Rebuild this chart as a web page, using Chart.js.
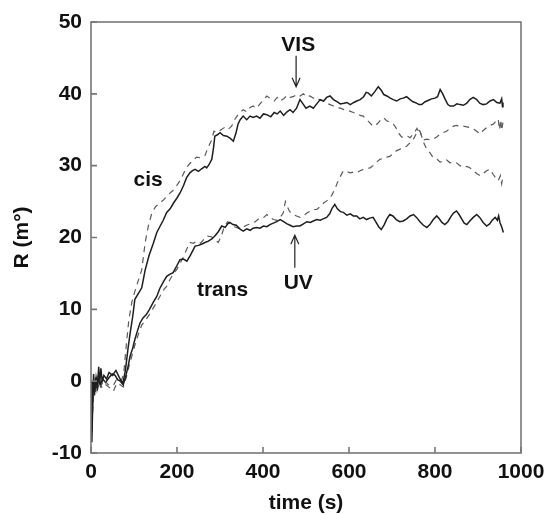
<!DOCTYPE html>
<html>
<head>
<meta charset="utf-8">
<script src="https://cdn.jsdelivr.net/npm/chart.js@4"></script>
<style>
  html, body { margin: 0; padding: 0; background: #fff; }
  #wrap { width: 548px; height: 514px; }
</style>
</head>
<body>
<div id="wrap"><canvas id="chart"></canvas></div>
<script>
// cis, solid line
var cisSolidT = [0, 2, 4, 6, 9, 12, 15, 18, 20, 23, 26, 30, 36, 42, 50, 58, 66, 74, 80, 86, 91, 97, 102, 110, 118, 126, 135, 145, 153, 160, 168, 176, 184, 192, 200, 207, 215, 222, 230, 236, 242, 250, 258, 265, 269, 275, 281, 285, 288, 294, 300, 308, 316, 324, 331, 337, 342, 347, 354, 362, 370, 377, 385, 393, 401, 409, 418, 426, 433, 440, 448, 456, 463, 470, 478, 486, 493, 500, 509, 517, 525, 533, 541, 548, 556, 564, 572, 580, 588, 595, 603, 611, 618, 626, 634, 640, 645, 652, 660, 668, 675, 681, 688, 696, 703, 711, 719, 726, 734, 742, 749, 757, 763, 769, 777, 785, 792, 800, 806, 812, 818, 824, 830, 835, 843, 851, 858, 866, 874, 881, 889, 897, 904, 912, 920, 928, 936, 944, 951, 955, 957, 958];
var cisSolidR = [0, -7, -2, 1, -1.5, 0.5, -0.5, 2, -0.5, 1.8, 0, 0.8, 0.3, 1.2, 0.8, 1.5, 0.5, -0.3, 1.5, 4.5, 6.7, 9, 11.4, 12.2, 13, 15.5, 17.5, 19.2, 20.7, 21.5, 22.4, 23.5, 24, 24.8, 25.5, 26.2, 27.2, 28.3, 29, 29.3, 29.5, 29.2, 29.6, 29.9, 29.7, 30.2, 30.9, 32.5, 34.1, 34.3, 34.6, 34.2, 34.1, 33.8, 33.4, 34.5, 35.8, 36.4, 36.9, 36.4, 36.9, 36.7, 36.9, 36.6, 37.2, 37.1, 36.8, 37.4, 37.2, 37.6, 37.0, 37.5, 37.8, 37.4, 38.0, 39.2, 38.6, 38.0, 38.3, 38.0, 38.6, 39.2, 39.0, 39.5, 39.7, 39.2, 38.9, 38.6, 38.7, 38.8, 38.5, 38.8, 39.0, 39.2, 39.6, 40.2, 40.1, 39.7, 40.3, 41.0, 40.5, 39.9, 39.7, 39.4, 39.2, 39.0, 39.3, 39.4, 39.6, 39.2, 38.9, 38.7, 38.5, 38.5, 38.9, 39.1, 39.3, 39.4, 39.6, 40.6, 40.0, 39.2, 38.5, 38.3, 38.3, 38.6, 38.5, 38.4, 38.7, 39.2, 39.5, 39.2, 38.7, 38.5, 38.6, 39.0, 39.2, 38.8, 38.7, 39.3, 38.2, 38.8];

// cis, dashed line
var cisDashT = [0, 3, 6, 10, 15, 22, 30, 40, 52, 60, 70, 76, 82, 88, 95, 102, 110, 118, 126, 133, 141, 150, 160, 170, 180, 190, 199, 208, 216, 223, 230, 238, 246, 254, 265, 272, 280, 286, 292, 300, 310, 318, 327, 335, 343, 354, 362, 370, 377, 385, 393, 401, 409, 418, 426, 433, 440, 448, 456, 463, 470, 478, 486, 494, 501, 509, 517, 525, 533, 540, 548, 556, 564, 571, 580, 588, 595, 602, 610, 618, 626, 633, 641, 648, 654, 660, 667, 674, 680, 687, 695, 703, 710, 716, 722, 730, 736, 742, 748, 754, 758, 762, 765, 770, 775, 781, 788, 796, 805, 812, 819, 827, 835, 843, 850, 858, 866, 874, 881, 889, 897, 905, 912, 920, 928, 935, 941, 947, 952, 955, 958];
var cisDashR = [-1, -4, 0, -1, 0.5, -0.8, 0.2, -0.5, -0.6, 0.3, 0, 1, 5, 8.5, 11, 12.5, 14, 15.5, 19.3, 21.5, 23.3, 24.3, 24.8, 25.3, 26, 26.5, 27.2, 28, 29, 29.8, 30.3, 30.8, 31.2, 31.1, 31.4, 32.5, 33.5, 34.8, 34.6, 34.9, 35.3, 35.0, 35.5, 36.5, 37.2, 37.8, 37.5, 38.1, 38.3, 38.0, 38.6, 39.2, 39.7, 39.3, 39.0, 39.5, 39.0, 39.3, 39.8, 39.5, 39.6, 39.9, 39.7, 40.0, 39.6, 39.7, 39.4, 39.5, 39.1, 39.0, 38.7, 38.5, 38.3, 38.1, 38.0, 37.8, 37.7, 37.6, 37.4, 37.3, 37.0, 36.9, 36.4, 36.0, 35.6, 35.5, 35.9, 36.4, 36.7, 36.3, 36.0, 35.8, 35.2, 34.5, 34.0, 33.9, 34.1, 33.9, 34.3, 34.8, 35.2, 34.6, 34.8, 33.9, 33.0, 32.3, 31.8, 31.1, 30.9, 30.5, 30.6, 30.8, 30.4, 30.5, 30.4, 30.0, 29.8, 29.9, 29.7, 29.3, 28.9, 28.6, 28.9, 29.3, 29.5, 28.8, 28.3, 27.9, 28.6, 27.5, 28.5];

// trans, solid line
var transSolidT = [0, 2, 4, 6, 8, 11, 14, 18, 22, 27, 34, 42, 50, 56, 62, 68, 75, 80, 86, 91, 97, 102, 108, 114, 121, 129, 136, 145, 153, 160, 168, 176, 184, 191, 199, 207, 215, 223, 231, 237, 242, 250, 258, 265, 273, 281, 288, 296, 304, 312, 318, 323, 330, 338, 346, 354, 362, 370, 377, 385, 393, 401, 409, 416, 424, 432, 440, 448, 456, 463, 470, 478, 486, 494, 502, 510, 517, 525, 533, 540, 548, 555, 561, 567, 573, 580, 587, 595, 603, 610, 618, 625, 633, 641, 648, 656, 662, 669, 675, 682, 688, 695, 702, 710, 718, 726, 734, 742, 750, 757, 765, 773, 781, 788, 796, 804, 810, 816, 823, 830, 837, 843, 850, 856, 862, 868, 874, 881, 889, 897, 904, 912, 920, 927, 933, 940, 945, 948, 951, 955, 959];
var transSolidR = [0, -8.5, -3, -0.5, -2, 0.5, -1, 0.5, -0.5, 0.3, -0.2, 0.5, 1.0, 0.8, 0.2, 0, -0.5, 0.5, 2, 3.5, 4.6, 5.8, 7, 8.1, 8.8, 9.3, 10, 11, 11.8, 12.9, 13.8, 14.6, 14.9, 15.1, 16.0, 16.9, 17.0, 16.7, 17.5, 18.2, 18.8, 18.9, 19.1, 19.3, 19.5, 19.8, 20.2, 20.8, 21.6, 21.4, 21.9, 22.1, 21.8, 21.7, 21.2, 20.9, 21.2, 21.0, 21.3, 21.4, 21.3, 21.6, 21.5, 21.8, 22.0, 22.2, 22.5, 22.2, 21.9, 21.7, 21.5, 21.6, 21.6, 21.9, 22.2, 22.1, 22.3, 22.5, 22.4, 22.6, 22.8, 23.3, 24.1, 24.6, 24.0, 23.6, 23.5, 23.1, 23.3, 23.0, 23.0, 22.6, 22.8, 22.5, 22.7, 22.8, 22.2, 21.5, 21.1, 21.8, 22.6, 23.2, 23.0, 22.5, 22.2, 22.3, 22.6, 23.0, 23.2, 22.8, 22.2, 21.7, 21.4, 21.8, 22.5, 23.0, 22.6, 22.1, 21.8, 22.2, 22.9, 23.4, 23.7, 23.2, 22.6, 22.0, 21.8, 22.3, 22.8, 23.2, 22.8, 22.1, 21.6, 21.9, 22.4, 22.8, 22.4, 23.0, 22.1, 21.5, 20.7];

// trans, dashed line
var transDashT = [0, 3, 6, 10, 14, 20, 26, 35, 45, 52, 60, 68, 75, 82, 88, 95, 102, 110, 118, 127, 136, 145, 153, 162, 170, 176, 184, 192, 200, 208, 215, 222, 230, 238, 246, 255, 263, 271, 280, 288, 296, 303, 310, 318, 326, 334, 342, 350, 358, 366, 374, 382, 390, 400, 409, 416, 424, 432, 440, 447, 452, 456, 462, 470, 478, 486, 494, 502, 510, 518, 525, 533, 541, 548, 555, 560, 567, 572, 578, 587, 595, 603, 610, 618, 626, 634, 641, 649, 656, 664, 672, 680, 688, 695, 703, 711, 719, 726, 734, 742, 750, 756, 761, 765, 770, 775, 781, 788, 796, 804, 812, 819, 827, 835, 843, 850, 858, 866, 874, 881, 889, 897, 905, 912, 920, 928, 936, 942, 947, 950, 953, 955, 958];
var transDashR = [-1, -5, -1.5, 0, -1.5, 0, -1, -0.5, -1, -1.4, -0.3, -0.5, -0.8, 0.5, 2, 3.5, 5, 6.5, 7.8, 8.5, 9.3, 10.2, 11, 12, 12.8, 13.2, 14.2, 15, 15.6, 16.5, 17.3, 18.3, 19.3, 19.2, 19.5, 19.2, 19.8, 20.2, 20.1, 19.7, 19.3, 20.2, 21.5, 22.2, 21.8, 21.5, 21.3, 21.2, 21.6, 21.8, 22.0, 22.2, 22.6, 22.7, 23.2, 22.8, 22.5, 22.4, 22.8, 23.4, 25.0, 24.4, 23.6, 23.2, 23.0, 22.8, 23.0, 23.4, 23.7, 23.9, 23.9, 24.3, 24.8, 25.1, 25.4, 25.9, 26.7, 27.5, 28.3, 29.3, 29.2, 29.0, 29.1, 29.0, 29.3, 29.5, 29.6, 29.7, 30.0, 30.5, 30.9, 31.0, 31.2, 31.3, 31.7, 32.1, 32.3, 32.5, 32.7, 33.2, 33.7, 34.4, 35.0, 34.8, 34.0, 33.6, 33.7, 33.6, 33.7, 34.0, 34.4, 34.6, 34.8, 35.2, 35.5, 35.6, 35.5, 35.5, 35.4, 35.3, 35.1, 34.8, 34.4, 34.9, 35.3, 35.6, 35.8, 36.2, 36.5, 35.0, 36.4, 34.9, 36.0];

// axis ticks
var xTicks = [0, 200, 400, 600, 800, 1000];
var yTicks = [-10, 0, 10, 20, 30, 40, 50];

// labels written in the plot (time, R)
var noteText = ['VIS', 'cis', 'trans', 'UV'];
var noteT = [482, 133, 306, 482];
var noteR = [45.9, 27.2, 11.8, 12.8];

// arrows: from (t, r0) to the tip (t, r1)
var arrowT = [477, 474];
var arrowFrom = [45.3, 15.8];
var arrowTo = [41.0, 20.3];

function pts(t, r) {
  return t.map(function(v, i) { return { x: v, y: r[i] }; });
}

const FONT = '"Liberation Sans", Arial, Helvetica, sans-serif';

// frame round the plot + ticks pointing inward
var framePlugin = {
  id: 'frame',
  afterDraw: function(chart) {
    var ctx = chart.ctx;
    var a = chart.chartArea;
    var xs = chart.scales.x, ys = chart.scales.y;
    ctx.save();
    ctx.strokeStyle = '#777';
    ctx.lineWidth = 1.6;
    ctx.strokeRect(a.left, a.top, a.right - a.left, a.bottom - a.top);
    ctx.beginPath();
    xTicks.forEach(function(v) {
      var x = xs.getPixelForValue(v);
      ctx.moveTo(x, a.bottom);
      ctx.lineTo(x, a.bottom - 6);
    });
    yTicks.forEach(function(v) {
      var y = ys.getPixelForValue(v);
      ctx.moveTo(a.left, y);
      ctx.lineTo(a.left + 6, y);
    });
    ctx.stroke();
    ctx.restore();
  }
};

// text notes and arrows
var notePlugin = {
  id: 'notes',
  afterDatasetsDraw: function(chart) {
    var ctx = chart.ctx;
    var xs = chart.scales.x, ys = chart.scales.y;
    ctx.save();
    ctx.fillStyle = '#111';
    ctx.font = 'bold 21px ' + FONT;
    ctx.textAlign = 'center';
    ctx.textBaseline = 'alphabetic';
    noteText.forEach(function(s, i) {
      ctx.fillText(s, xs.getPixelForValue(noteT[i]), ys.getPixelForValue(noteR[i]));
    });
    ctx.strokeStyle = '#222';
    ctx.lineWidth = 1.2;
    arrowT.forEach(function(t, i) {
      var x = xs.getPixelForValue(t);
      var y0 = ys.getPixelForValue(arrowFrom[i]);
      var y1 = ys.getPixelForValue(arrowTo[i]);
      var d = y1 > y0 ? -1 : 1;
      ctx.beginPath();
      ctx.moveTo(x, y0);
      ctx.lineTo(x, y1);
      ctx.moveTo(x - 4, y1 + d * 9);
      ctx.lineTo(x, y1);
      ctx.lineTo(x + 4, y1 + d * 9);
      ctx.stroke();
    });
    ctx.restore();
  }
};

var solid = { borderColor: '#1e1e1e', borderWidth: 1.5, pointRadius: 0, fill: false, tension: 0 };
var dashed = { borderColor: '#5a5a5a', borderWidth: 1.2, borderDash: [6, 5], pointRadius: 0, fill: false, tension: 0 };

function plain(v) { return String(v); }

var ctx = document.getElementById('chart').getContext('2d');
var chart = new Chart(ctx, {
  type: 'line',
  data: {
    datasets: [
      Object.assign({ label: 'cis', data: pts(cisSolidT, cisSolidR) }, solid),
      Object.assign({ label: 'cis dashed', data: pts(cisDashT, cisDashR) }, dashed),
      Object.assign({ label: 'trans', data: pts(transSolidT, transSolidR) }, solid),
      Object.assign({ label: 'trans dashed', data: pts(transDashT, transDashR) }, dashed)
    ]
  },
  options: {
    responsive: true,
    maintainAspectRatio: false,
    animation: false,
    layout: { padding: { left: 0, right: 27, top: 22, bottom: 0 } },
    plugins: { legend: { display: false }, tooltip: { enabled: false } },
    scales: {
      x: {
        type: 'linear',
        min: 0,
        max: 1000,
        afterBuildTicks: function(s) { s.ticks = xTicks.map(function(v) { return { value: v }; }); },
        afterFit: function(s) { s.height = 61; s.paddingLeft = 0; s.paddingRight = 0; },
        grid: { display: false, drawTicks: false },
        border: { display: false },
        ticks: { color: '#111', padding: 7, maxRotation: 0, callback: plain, font: { family: FONT, size: 21, weight: 'bold' } },
        title: { display: true, text: 'time (s)', color: '#111', padding: 0, font: { family: FONT, size: 21, weight: 'bold', lineHeight: 1 } }
      },
      y: {
        min: -10,
        max: 50,
        afterBuildTicks: function(s) { s.ticks = yTicks.map(function(v) { return { value: v }; }); },
        afterFit: function(s) { s.width = 91; s.paddingTop = 0; s.paddingBottom = 0; },
        grid: { display: false, drawTicks: false },
        border: { display: false },
        ticks: { color: '#111', padding: 9, callback: plain, font: { family: FONT, size: 21, weight: 'bold' } },
        title: { display: true, text: 'R (m°)', color: '#111', padding: { top: 12, bottom: 0 }, font: { family: FONT, size: 21, weight: 'bold', lineHeight: 1 } }
      }
    }
  },
  plugins: [framePlugin, notePlugin]
});
</script>
</body>
</html>
